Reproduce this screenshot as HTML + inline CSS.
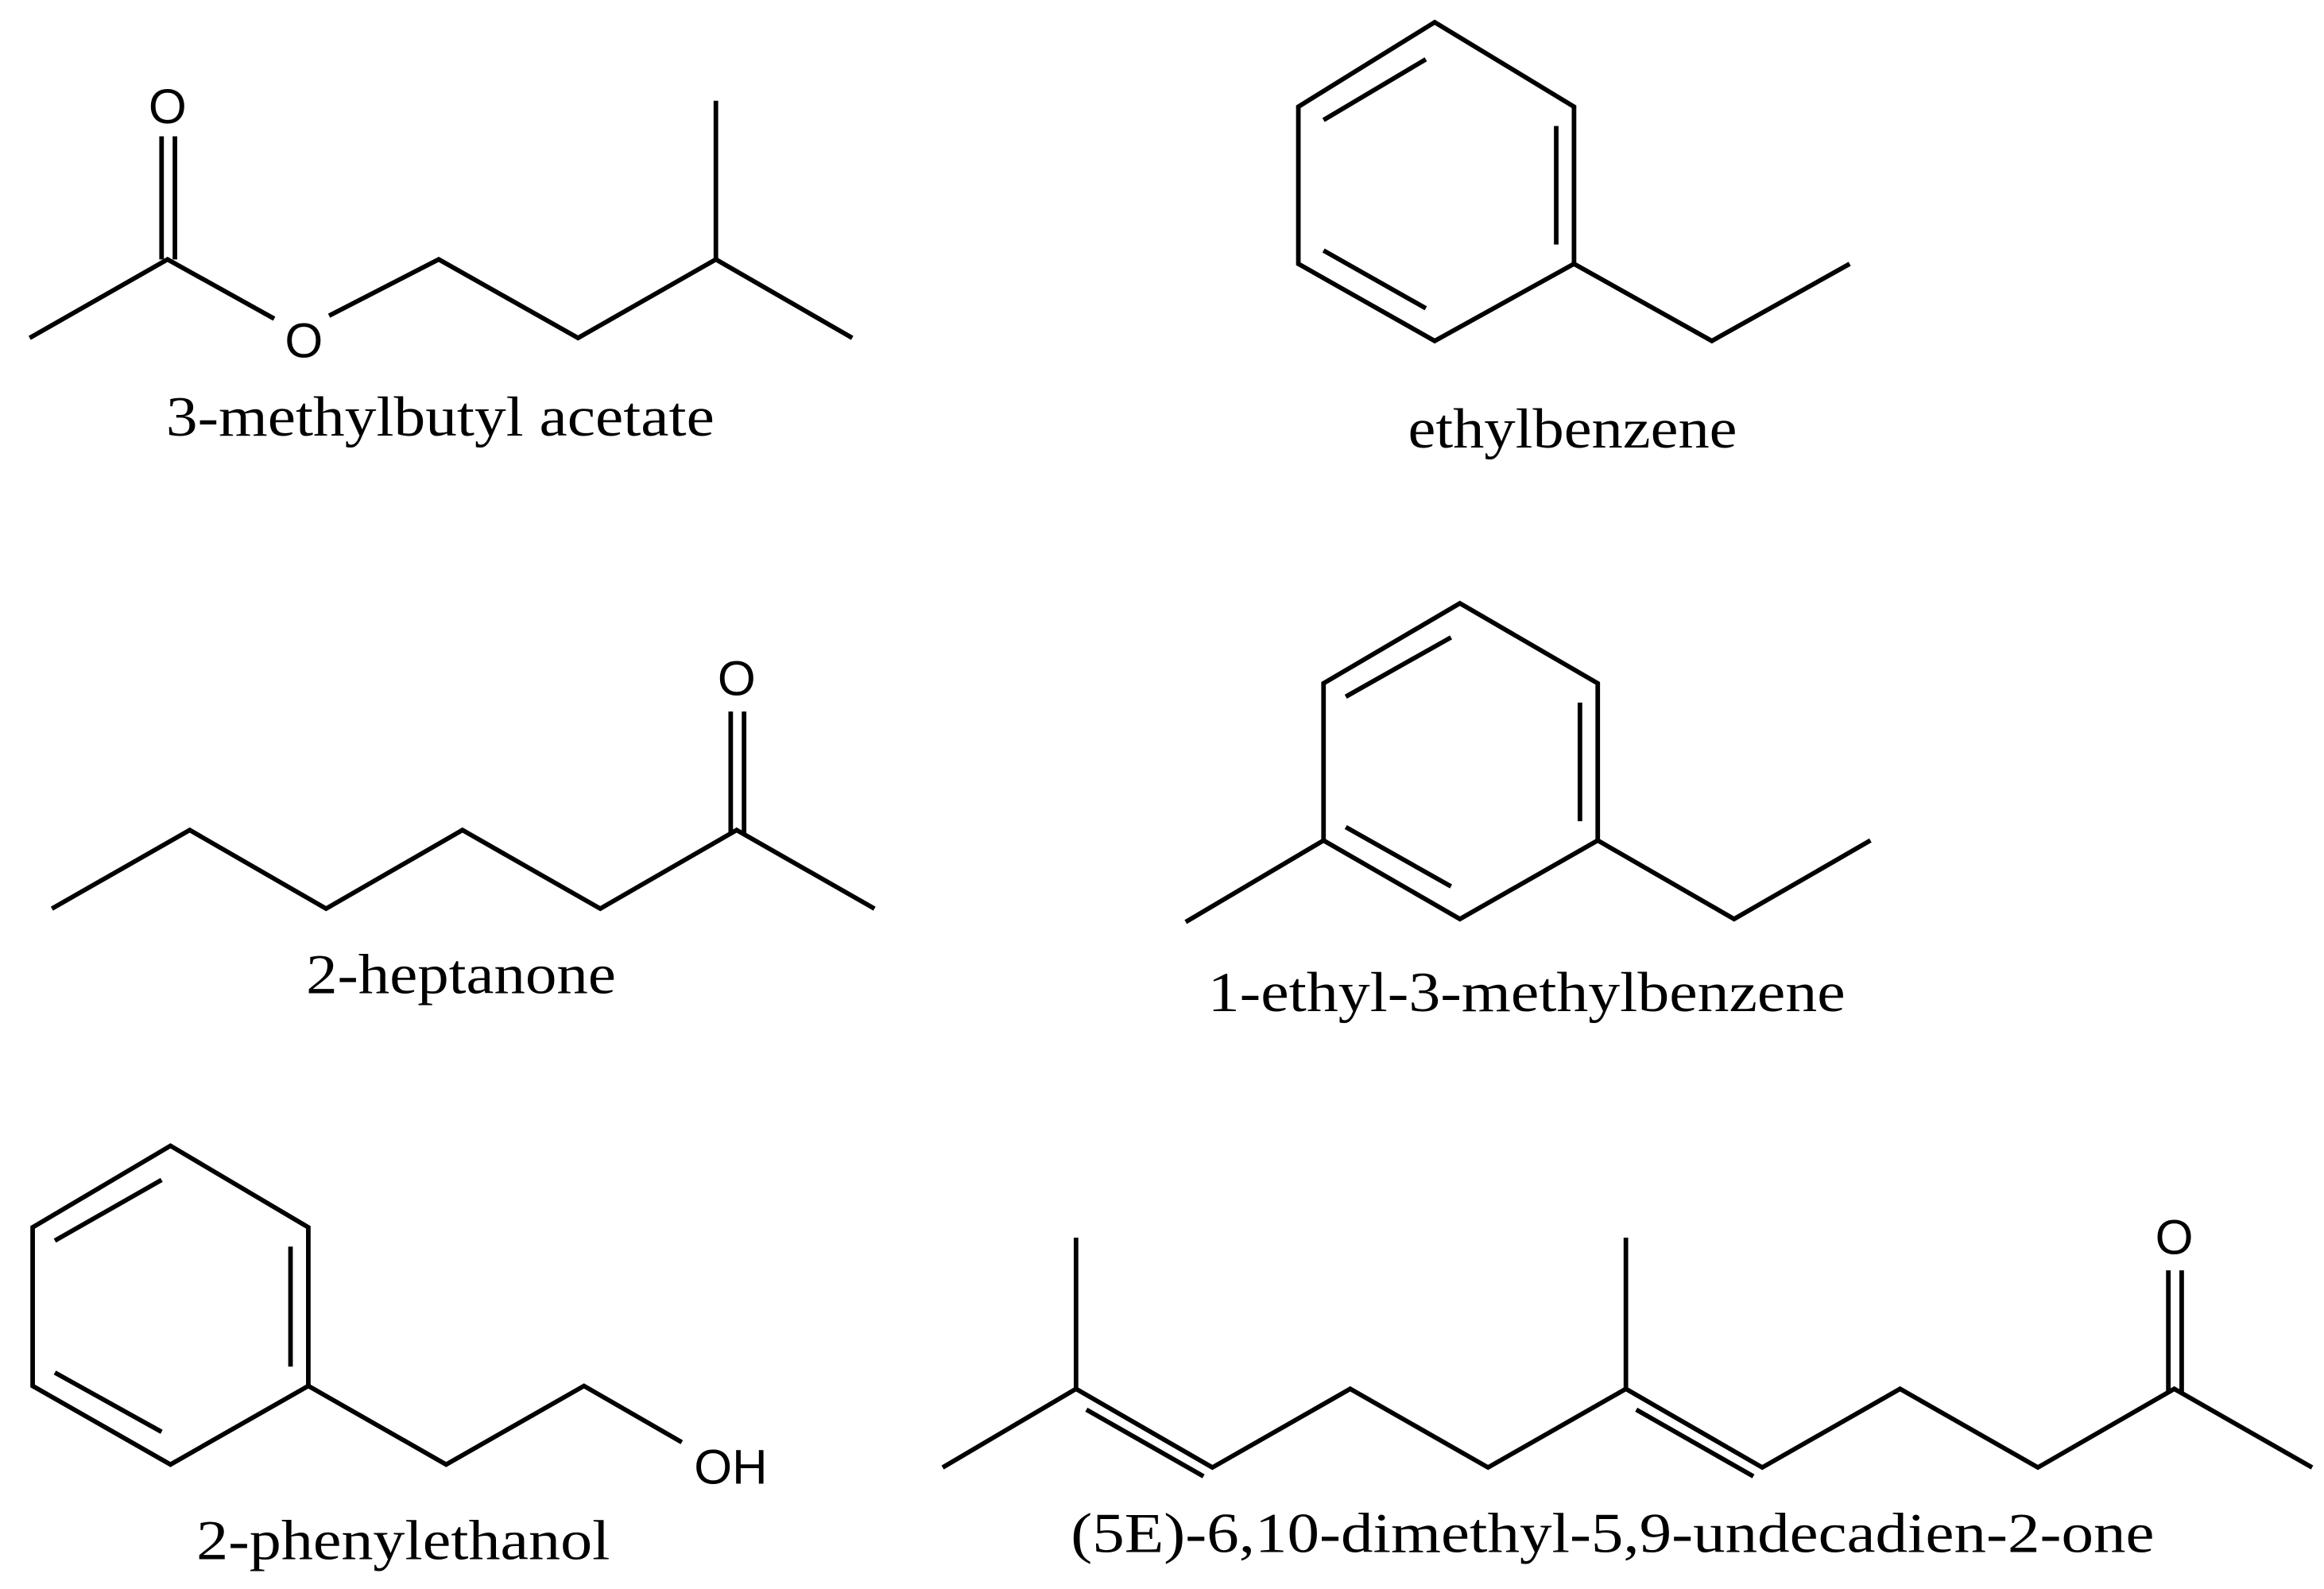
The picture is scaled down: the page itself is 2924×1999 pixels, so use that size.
<!DOCTYPE html>
<html><head><meta charset="utf-8"><style>
html,body{margin:0;padding:0;background:#fff;}
svg{display:block;}
.b{stroke:#000;stroke-width:3.1;fill:none;stroke-linecap:butt;stroke-linejoin:miter;}
.l{font-family:"Liberation Serif",serif;font-size:38px;fill:#000;}
.a{font-family:"Liberation Sans",sans-serif;font-size:33px;fill:#000;}
</style></head><body>
<svg width="2924" height="1999" viewBox="0 0 1568 1072" xmlns="http://www.w3.org/2000/svg">
<rect width="1568" height="1072" fill="#fff"/>
<!-- 3-methylbutyl acetate -->
<polyline class="b" points="20,228 113,175 185,215"/>
<line class="b" x1="109" y1="92" x2="109" y2="175"/>
<line class="b" x1="118" y1="92" x2="118" y2="175"/>
<text class="a" x="113" y="83" text-anchor="middle">O</text>
<text class="a" x="205" y="241" text-anchor="middle">O</text>
<polyline class="b" points="222,213 296,175 390,228 483,175 575,228"/>
<line class="b" x1="483" y1="175" x2="483" y2="68"/>
<text class="l" x="297" y="294" text-anchor="middle" textLength="370" lengthAdjust="spacingAndGlyphs">3-methylbutyl acetate</text>

<!-- ethylbenzene -->
<polygon class="b" points="968,15 1062,72 1062,178 968,230 876,178 876,72"/>
<line class="b" x1="893" y1="81" x2="962" y2="40"/>
<line class="b" x1="1050" y1="85" x2="1050" y2="165"/>
<line class="b" x1="893" y1="169" x2="962" y2="208"/>
<polyline class="b" points="1062,178 1155,230 1248,178"/>
<text class="l" x="1061" y="302" text-anchor="middle" textLength="222" lengthAdjust="spacingAndGlyphs">ethylbenzene</text>

<!-- 2-heptanone -->
<polyline class="b" points="35,613 128,560 220,613 312,560 405,613 497,560 590,613"/>
<line class="b" x1="493" y1="480" x2="493" y2="562"/>
<line class="b" x1="502" y1="480" x2="502" y2="562"/>
<text class="a" x="497" y="469" text-anchor="middle">O</text>
<text class="l" x="311" y="670" text-anchor="middle" textLength="209" lengthAdjust="spacingAndGlyphs">2-heptanone</text>

<!-- 1-ethyl-3-methylbenzene -->
<polygon class="b" points="985,407 1078,461 1078,567 985,620 893,567 893,461"/>
<line class="b" x1="908" y1="470" x2="979" y2="430"/>
<line class="b" x1="1066" y1="474" x2="1066" y2="554"/>
<line class="b" x1="908" y1="558" x2="979" y2="598"/>
<line class="b" x1="893" y1="567" x2="800" y2="622"/>
<polyline class="b" points="1078,567 1170,620 1262,567"/>
<text class="l" x="1030" y="682" text-anchor="middle" textLength="430" lengthAdjust="spacingAndGlyphs">1-ethyl-3-methylbenzene</text>

<!-- 2-phenylethanol -->
<polygon class="b" points="115,773 208,828 208,935 115,988 22,935 22,828"/>
<line class="b" x1="37" y1="837" x2="109" y2="796"/>
<line class="b" x1="196" y1="841" x2="196" y2="922"/>
<line class="b" x1="37" y1="926" x2="109" y2="966"/>
<polyline class="b" points="208,935 301,988 394,935 460,973"/>
<text class="a" x="493" y="1001" text-anchor="middle">OH</text>
<text class="l" x="272" y="1052" text-anchor="middle" textLength="279" lengthAdjust="spacingAndGlyphs">2-phenylethanol</text>

<!-- (5E)-6,10-dimethyl-5,9-undecadien-2-one -->
<polyline class="b" points="636,990 726,937 818,990 911,937 1004,990 1097,937 1189,990 1282,937 1375,990 1467,937 1560,990"/>
<line class="b" x1="726" y1="937" x2="726" y2="835"/>
<line class="b" x1="1097" y1="937" x2="1097" y2="835"/>
<line class="b" x1="733" y1="951" x2="812" y2="996"/>
<line class="b" x1="1104" y1="951" x2="1183" y2="996"/>
<line class="b" x1="1463" y1="857" x2="1463" y2="939"/>
<line class="b" x1="1472" y1="857" x2="1472" y2="939"/>
<text class="a" x="1467" y="846" text-anchor="middle">O</text>
<text class="l" x="1088" y="1047" text-anchor="middle" textLength="731" lengthAdjust="spacingAndGlyphs">(5E)-6,10-dimethyl-5,9-undecadien-2-one</text>
</svg>
</body></html>
